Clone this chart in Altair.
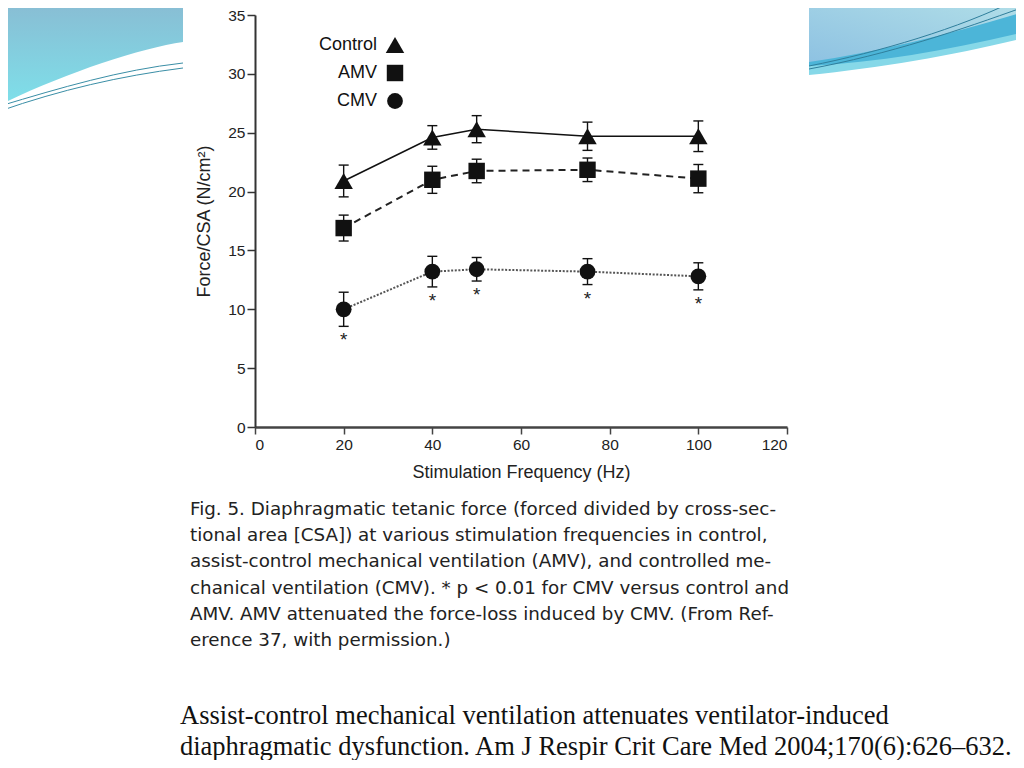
import altair as alt
import pandas as pd

# ---------------- data ----------------
freq = [20, 40, 50, 75, 100]
control_mean = [20.9, 24.6, 25.3, 24.7, 24.7]
control_err = [1.35, 1.0, 1.15, 1.2, 1.3]
amv_mean = [16.9, 21.0, 21.75, 21.85, 21.1]
amv_err = [1.1, 1.15, 1.0, 1.0, 1.2]
cmv_mean = [10.0, 13.2, 13.4, 13.2, 12.8]
cmv_err = [1.45, 1.3, 1.0, 1.1, 1.15]
groups = ["Control", "AMV", "CMV"]
x_ticks = [0, 20, 40, 60, 80, 100, 120]
y_ticks = [0, 5, 10, 15, 20, 25, 30, 35]

caption_lines = [
    "Fig. 5. Diaphragmatic tetanic force (forced divided by cross-sec-",
    "tional area [CSA]) at various stimulation frequencies in control,",
    "assist-control mechanical ventilation (AMV), and controlled me-",
    "chanical ventilation (CMV). * p < 0.01 for CMV versus control and",
    "AMV. AMV attenuated the force-loss induced by CMV. (From Ref-",
    "erence 37, with permission.)",
]
citation_lines = [
    "Assist-control mechanical ventilation attenuates ventilator-induced",
    "diaphragmatic dysfunction. Am J Respir Crit Care Med 2004;170(6):626\u2013632.",
]

rows = []
for g, means, errs in [("Control", control_mean, control_err),
                       ("AMV", amv_mean, amv_err),
                       ("CMV", cmv_mean, cmv_err)]:
    for f, m, e in zip(freq, means, errs):
        rows.append({"group": g, "freq": f, "mean": m, "lo": m - e, "hi": m + e})
df = pd.DataFrame(rows)

# ---------------- styles ----------------
SANS = "Liberation Sans"
INK = "#111111"
# plot origin sits at page (255, 15)
OX, OY = 255, 15

X = alt.X("freq:Q",
          scale=alt.Scale(domain=[0, 120], nice=False, zero=True),
          axis=alt.Axis(values=x_ticks, title="Stimulation Frequency (Hz)", grid=False,
                        domainColor="#444", domainWidth=2.5, tickColor="#444",
                        tickWidth=1.5, tickSize=7, labelFont=SANS, labelFontSize=15.5,
                        labelColor="#222", labelPadding=3, titleFont=SANS,
                        titleFontSize=18, titleFontWeight="normal", titleColor="#222",
                        titlePadding=11))
Y_AXIS = alt.Axis(values=y_ticks, title="Force/CSA (N/cm\u00b2)", grid=False,
                  domainColor="#333", domainWidth=2, tickColor="#333", tickWidth=1.5,
                  tickSize=8, labelFont=SANS, labelFontSize=15.5, labelColor="#222",
                  labelPadding=2, titleFont=SANS, titleFontSize=18,
                  titleFontWeight="normal", titleColor="#222", titlePadding=14)
Y_SCALE = alt.Scale(domain=[0, 35], nice=False, zero=True)


def Y(field):
    return alt.Y(field, type="quantitative", scale=Y_SCALE, axis=Y_AXIS)


line_style = {
    "Control": dict(strokeWidth=1.6, color=INK),
    "AMV": dict(strokeWidth=2, color="#222", strokeDash=[7, 5]),
    "CMV": dict(strokeWidth=2, color="#555", strokeDash=[2, 1.6]),
}
shape_of = {"Control": "triangle-up", "AMV": "square", "CMV": "circle"}
size_of = {"Control": 340, "AMV": 270, "CMV": 250}

# ---------------- decorations (slide swooshes) ----------------
def deco(path, **kw):
    return alt.Chart(alt.Data(values=[{}])).mark_point(
        shape=path, size=4, opacity=1, **kw
    ).encode(x=alt.value(-OX), y=alt.value(-OY))


grad_tl = alt.Gradient(gradient="linear", x1=0, y1=0, x2=0, y2=1,
                       stops=[alt.GradientStop(color="#89bcd3", offset=0),
                              alt.GradientStop(color="#7ee0ea", offset=1)])
grad_tr = alt.Gradient(gradient="linear", x1=1, y1=0, x2=0, y2=1,
                       stops=[alt.GradientStop(color="#b2dfe8", offset=0),
                              alt.GradientStop(color="#8ec2e2", offset=1)])

decor = [
    deco("M0,0 L183,0 L183,42 C140,48 60,75 0,105 Z", filled=True, fill=grad_tl, strokeWidth=0),
    deco("M0,106 C60,88 120,70 183,63 M0,111 C60,90 120,76 183,68",
         filled=False, stroke="#3a8ea6", strokeWidth=1),
    deco("M809,0 L1024,0 L1024,38 C960,54 880,68 809,75 Z", filled=True, fill="#86d8e8", strokeWidth=0),
    deco("M809,0 L1024,0 L1024,32 C950,50 880,62 809,66 Z", filled=True, fill="#4cb5d8", strokeWidth=0),
    deco("M809,0 L1024,0 L1024,12 C950,34 880,52 809,62 Z", filled=True, fill=grad_tr, strokeWidth=0),
    deco("M809,66 C880,52 960,28 1016,0 M809,69 C890,54 960,30 1024,7",
         filled=False, stroke="#2f7f9c", strokeWidth=1),
]

# ---------------- data layers ----------------
base = alt.Chart(df)
layers = []
for g in groups:
    sub = base.transform_filter(alt.datum.group == g)
    layers.append(sub.mark_line(**line_style[g]).encode(x=X, y=Y("mean")))
for g in groups:
    sub = base.transform_filter(alt.datum.group == g)
    layers.append(sub.mark_rule(color=INK, strokeWidth=1.4).encode(x=X, y=Y("lo"), y2="hi"))
    layers.append(sub.mark_tick(orient="horizontal", color=INK, thickness=1.4, size=10,
                                opacity=1).encode(x=X, y=Y("hi")))
    layers.append(sub.mark_tick(orient="horizontal", color=INK, thickness=1.4, size=10,
                                opacity=1).encode(x=X, y=Y("lo")))
    layers.append(sub.mark_point(shape=shape_of[g], size=size_of[g], filled=True,
                                 color=INK, opacity=1).encode(x=X, y=Y("mean")))

# significance asterisks under the CMV points
layers.append(base.transform_filter(alt.datum.group == "CMV").mark_text(
    text="*", font=SANS, fontSize=19, color="#222",
    baseline="top", dy=5).encode(x=X, y=Y("lo")))

# ---------------- legend (drawn by hand: label left of symbol) ----------------
legend_y = {"Control": 30, "AMV": 58, "CMV": 86}
legend = []
for g in groups:
    one = alt.Chart(alt.Data(values=[{}]))
    legend.append(one.mark_text(text=g, font=SANS, fontSize=18, color=INK, align="right",
                                baseline="middle").encode(x=alt.value(122), y=alt.value(legend_y[g])))
    legend.append(one.mark_point(shape=shape_of[g], size=size_of[g], filled=True, color=INK,
                                 opacity=1).encode(x=alt.value(140), y=alt.value(legend_y[g])))

# ---------------- caption and citation ----------------
one = alt.Chart(alt.Data(values=[{}]))
caption = one.mark_text(text=caption_lines, font="DejaVu Sans", fontSize=18.3, color="#222",
                        align="left", baseline="middle", lineHeight=26.2).encode(
    x=alt.value(190 - OX), y=alt.value(510 - OY))
citation = one.mark_text(text=citation_lines, font="Liberation Serif", fontSize=26.5, color="#111",
                         align="left", baseline="alphabetic", lineHeight=31).encode(
    x=alt.value(180 - OX), y=alt.value(724 - OY))

chart = alt.layer(*decor, *layers, *legend, caption, citation).properties(
    width=532, height=412,
    autosize=alt.AutoSizeParams(type="none"),
    padding={"left": 247, "top": 7, "right": 229, "bottom": 333},
    background="white",
).configure_view(stroke=None)

chart.save("out.html", embed_options={"renderer": "svg", "actions": False})
